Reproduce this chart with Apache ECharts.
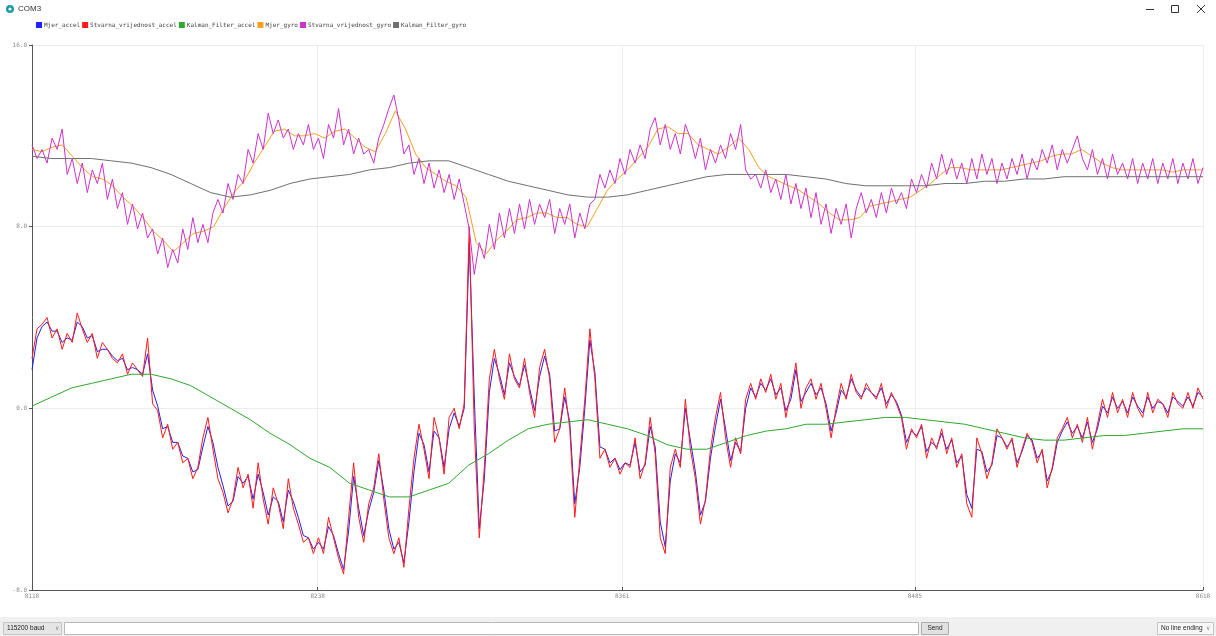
<!DOCTYPE html>
<html><head><meta charset="utf-8">
<script src="https://cdn.jsdelivr.net/npm/echarts@6/dist/echarts.min.js"></script>
<style>html,body{margin:0;padding:0;background:#fff;overflow:hidden}#chart{width:1216px;height:636px}</style>
</head><body><div id="chart"></div>
<script>
// ---- data (Arduino serial plotter, 500 samples wide) ----
const seriesNames = ['Mjer_accel','Stvarna_vrijednost_accel','Kalman_Filter_accel','Mjer_gyro','Stvarna_vrijednost_gyro','Kalman_Filter_gyro'];
const seriesColors = ['#1f1fff','#ff1a1a','#2ea82e','#f5a020','#cc33cc','#707070'];
const xTickSamples = [0, 122, 252, 377, 500];
const xTickLabels = ['8118','8238','8361','8485','8618'];
const yTickValues = [-8, 0, 8, 16];

const mjerAccel = [
 1.7, 3.1, 3.6, 3.8, 3.4, 3.4, 2.9, 3.1, 3.0, 3.8,
 3.6, 3.1, 3.2, 2.5, 2.6, 2.6, 2.3, 2.1, 2.2, 1.7,
 1.8, 1.7, 1.5, 2.4, 0.8, 0.1, -0.9, -0.8, -1.5, -1.5,
 -2.1, -2.2, -2.8, -2.7, -1.7, -0.8, -1.5, -2.6, -3.4, -4.3,
 -4.1, -3.0, -3.3, -3.0, -4.0, -2.9, -3.7, -4.7, -3.9, -4.1,
 -5.0, -3.6, -4.1, -4.8, -5.6, -5.7, -6.2, -5.9, -6.2, -5.2,
 -5.6, -6.4, -7.1, -5.4, -3.0, -4.4, -5.6, -4.5, -3.7, -2.3,
 -3.6, -5.3, -6.2, -5.9, -6.8, -5.0, -2.8, -1.1, -1.6, -2.8,
 -1.0, -1.3, -2.6, -0.9, -0.2, -0.8, 0.0, 7.3, 0.5, -5.3,
 -3.1, 0.7, 2.2, 1.5, 0.6, 2.0, 1.4, 1.0, 1.9, 0.9,
 -0.1, 1.4, 2.3, 1.5, -1.0, -0.9, 0.5, -0.6, -4.2, -2.6,
 0.0, 3.0, 1.6, -1.7, -1.8, -2.4, -2.2, -2.7, -2.4, -2.5,
 -1.5, -2.8, -2.5, -0.8, -1.7, -5.0, -6.1, -3.2, -2.0, -2.4,
 0.0, -1.4, -2.8, -4.7, -4.1, -2.2, -0.8, 0.4, -0.9, -2.3,
 -1.5, -1.9, 0.0, 0.9, 0.5, 1.1, 0.8, 1.3, 0.6, 0.9,
 -0.1, 0.4, 1.7, 0.3, 0.7, 1.1, 0.6, 0.9, 0.2, -1.0,
 -0.2, 0.8, 0.5, 1.3, 0.8, 0.5, 0.9, 0.7, 0.5, 0.9,
 0.2, 0.6, 0.3, -0.3, -1.5, -1.0, -1.2, -0.8, -1.9, -1.5,
 -1.7, -1.1, -1.8, -1.4, -2.4, -2.1, -3.8, -4.4, -1.8, -1.9,
 -2.8, -2.5, -1.2, -1.3, -1.7, -1.4, -2.4, -1.9, -1.2, -1.4,
 -2.2, -1.9, -3.2, -2.7, -1.5, -1.0, -0.6, -1.1, -0.8, -1.3,
 -0.6, -1.5, -0.9, 0.1, -0.2, 0.5, 0.0, 0.3, -0.2, 0.5,
 0.1, -0.2, 0.5, 0.0, 0.3, 0.2, -0.2, 0.5, 0.3, 0.1,
 0.5, 0.1, 0.7, 0.5
];
const stvarnaAccel = [
 2.2, 3.5, 3.7, 4.0, 3.1, 3.5, 2.6, 3.3, 2.9, 4.2,
 3.5, 2.9, 3.3, 2.2, 2.9, 2.6, 2.2, 2.0, 2.4, 1.5,
 2.0, 1.7, 1.4, 3.1, 0.2, -0.1, -1.3, -0.7, -1.8, -1.5,
 -2.4, -2.2, -3.1, -2.6, -1.3, -0.4, -1.8, -3.1, -3.7, -4.6,
 -4.0, -2.6, -3.5, -2.9, -4.4, -2.4, -4.0, -5.1, -3.5, -4.2,
 -5.3, -3.1, -4.4, -5.1, -5.9, -5.7, -6.4, -5.7, -6.4, -4.8,
 -5.7, -6.6, -7.3, -4.8, -2.4, -4.8, -5.9, -4.2, -3.5, -2.0,
 -4.0, -5.7, -6.4, -5.7, -7.0, -4.4, -2.2, -0.7, -1.8, -3.1,
 -0.4, -1.3, -2.9, -0.4, 0.0, -0.9, 0.2, 8.0, -0.9, -5.7,
 -2.6, 1.3, 2.6, 1.3, 0.4, 2.4, 1.3, 0.9, 2.2, 0.7,
 -0.4, 1.8, 2.6, 1.3, -1.5, -0.9, 0.9, -0.9, -4.8, -2.2,
 0.4, 3.5, 1.3, -2.2, -1.8, -2.6, -2.2, -2.9, -2.4, -2.6,
 -1.3, -3.1, -2.4, -0.4, -2.0, -5.7, -6.4, -2.6, -1.8, -2.6,
 0.4, -1.8, -3.1, -5.1, -4.0, -1.8, -0.4, 0.7, -1.3, -2.6,
 -1.3, -2.0, 0.4, 1.1, 0.4, 1.3, 0.7, 1.5, 0.4, 1.1,
 -0.4, 0.7, 2.0, 0.0, 0.9, 1.3, 0.4, 1.1, 0.0, -1.3,
 0.0, 1.1, 0.4, 1.5, 0.7, 0.4, 1.1, 0.7, 0.4, 1.1,
 0.0, 0.7, 0.2, -0.4, -1.8, -0.9, -1.3, -0.7, -2.2, -1.3,
 -1.8, -0.9, -2.0, -1.3, -2.6, -2.0, -4.2, -4.8, -1.3, -2.0,
 -3.1, -2.4, -0.9, -1.3, -1.8, -1.3, -2.6, -1.8, -1.1, -1.5,
 -2.4, -1.8, -3.5, -2.6, -1.3, -0.9, -0.4, -1.3, -0.7, -1.5,
 -0.4, -1.8, -0.7, 0.4, -0.4, 0.7, -0.2, 0.4, -0.4, 0.7,
 0.0, -0.4, 0.7, -0.2, 0.4, 0.2, -0.4, 0.7, 0.2, 0.0,
 0.7, 0.0, 0.9, 0.4
];
const kalmanAccel = [
 0.1, 0.5, 0.9, 1.1, 1.3, 1.5, 1.5, 1.3, 1.0, 0.5,
 0.0, -0.5, -1.1, -1.6, -2.2, -2.6, -3.3, -3.6, -3.9, -3.9,
 -3.6, -3.3, -2.5, -2.0, -1.4, -0.9, -0.7, -0.6, -0.5, -0.7,
 -0.9, -1.2, -1.6, -1.8, -1.8, -1.5, -1.2, -1.0, -0.9, -0.7,
 -0.7, -0.6, -0.5, -0.4, -0.4, -0.5, -0.6, -0.7, -0.9, -1.1,
 -1.3, -1.4, -1.4, -1.3, -1.2, -1.2, -1.1, -1.0, -0.9, -0.9
];
const mjerGyro = [
 11.4, 11.3, 11.5, 11.6, 11.1, 10.6, 10.2, 10.1, 9.8, 9.3,
 8.9, 8.4, 7.8, 7.4, 6.9, 7.3, 7.7, 7.8, 8.0, 8.8,
 9.5, 10.0, 10.8, 11.5, 12.2, 12.3, 12.0, 12.0, 12.1, 11.9,
 12.2, 12.3, 11.9, 11.5, 11.3, 12.1, 13.1, 12.3, 11.2, 10.6,
 10.3, 10.0, 9.8, 9.3, 7.3, 6.8, 7.4, 7.8, 8.3, 8.4,
 8.6, 8.6, 8.4, 8.4, 8.1, 8.0, 8.8, 9.6, 10.1, 10.5,
 11.0, 11.5, 12.3, 12.4, 12.1, 12.1, 11.6, 11.4, 11.2, 11.5,
 11.9, 11.4, 10.6, 10.2, 10.0, 9.8, 9.6, 9.3, 9.0, 8.6,
 8.3, 8.3, 8.4, 8.9, 9.0, 9.1, 9.2, 9.3, 9.6, 9.9,
 10.3, 10.6, 10.6, 10.5, 10.5, 10.5, 10.5, 10.6, 10.7, 10.8,
 10.9, 11.1, 11.2, 11.2, 11.4, 11.1, 10.8, 10.6, 10.5, 10.5,
 10.5, 10.5, 10.5, 10.4, 10.5, 10.5, 10.5
];
const stvarnaGyro = [
 11.6, 11.0, 11.4, 10.8, 11.9, 11.4, 12.3, 10.3, 11.0, 9.9,
 10.8, 9.5, 10.5, 9.9, 10.8, 9.2, 10.1, 8.8, 9.5, 8.1,
 9.0, 7.9, 8.6, 7.5, 7.9, 6.8, 7.5, 6.2, 7.0, 6.4,
 7.9, 7.0, 8.4, 7.3, 8.1, 7.3, 8.6, 9.2, 8.6, 9.9,
 9.2, 10.3, 9.9, 11.4, 10.8, 12.1, 11.4, 13.0, 12.1, 12.7,
 11.9, 12.3, 11.4, 12.1, 11.6, 12.5, 11.4, 11.9, 11.0, 12.5,
 11.9, 13.2, 11.6, 12.3, 11.2, 11.9, 11.2, 11.4, 10.8, 11.9,
 12.5, 13.2, 13.8, 12.7, 11.2, 11.6, 10.3, 11.0, 9.9, 10.8,
 9.7, 10.5, 9.5, 10.3, 9.2, 10.1, 9.0, 7.9, 5.9, 7.3,
 6.6, 8.1, 7.0, 8.6, 7.5, 8.8, 7.7, 9.0, 7.9, 9.2,
 8.1, 9.0, 8.4, 9.2, 7.7, 8.8, 8.1, 9.0, 7.5, 8.6,
 7.9, 9.0, 9.2, 10.3, 9.7, 10.5, 9.9, 11.0, 10.3, 11.4,
 10.8, 11.6, 11.0, 12.3, 12.8, 11.6, 12.5, 11.4, 12.1, 11.2,
 12.5, 11.9, 11.0, 11.9, 10.5, 11.4, 10.8, 11.6, 11.0, 12.1,
 11.4, 12.5, 10.5, 10.1, 10.3, 9.7, 10.5, 9.5, 10.1, 9.2,
 10.3, 9.0, 9.9, 8.8, 9.7, 8.4, 9.5, 8.1, 9.0, 7.7,
 8.8, 8.1, 9.0, 7.5, 8.8, 9.5, 8.6, 9.2, 8.4, 9.5,
 8.6, 9.7, 9.0, 9.5, 8.8, 10.1, 9.5, 10.3, 9.7, 10.8,
 10.1, 11.2, 10.3, 11.0, 10.1, 10.8, 9.9, 11.0, 10.1, 11.2,
 10.3, 11.0, 9.9, 10.8, 10.1, 11.0, 10.3, 11.2, 10.1, 11.0,
 10.5, 11.4, 10.8, 11.6, 10.5, 11.4, 10.8, 11.4, 12.0, 11.0,
 10.5, 11.4, 10.3, 11.0, 10.1, 11.2, 10.3, 10.8, 10.1, 11.0,
 9.9, 10.8, 10.1, 11.0, 9.9, 10.8, 10.1, 11.0, 9.9, 10.8,
 10.1, 11.0, 9.9, 10.6
];
const kalmanGyro = [
 11.1, 11.0, 11.0, 11.0, 10.9, 10.8, 10.6, 10.3, 9.9, 9.5,
 9.3, 9.4, 9.6, 9.9, 10.1, 10.2, 10.3, 10.5, 10.6, 10.8,
 10.9, 10.9, 10.6, 10.3, 10.0, 9.8, 9.6, 9.4, 9.3, 9.3,
 9.4, 9.6, 9.8, 10.0, 10.2, 10.3, 10.3, 10.3, 10.3, 10.2,
 10.1, 9.9, 9.8, 9.8, 9.8, 9.8, 9.9, 9.9, 10.0, 10.0,
 10.1, 10.1, 10.2, 10.2, 10.2, 10.2, 10.2, 10.2, 10.2, 10.2
];
const allSeries = [mjerAccel, stvarnaAccel, kalmanAccel, mjerGyro, stvarnaGyro, kalmanGyro];
const SAMPLES = 500;

// place each series' readings evenly across the 500-sample window
function spread(arr) {
  const n = arr.length;
  return arr.map((v, i) => [i * SAMPLES / (n - 1), v]);
}

const chart = echarts.init(document.getElementById('chart'), null, {renderer: 'canvas'});
const mono = 'DejaVu Sans Mono, Liberation Mono, monospace';
const uiFont = 'Liberation Sans, DejaVu Sans, sans-serif';

const option = {
  animation: false,
  backgroundColor: '#ffffff',
  legend: {
    left: 31, top: 17,
    itemWidth: 6, itemHeight: 6, itemGap: 2,
    icon: 'rect',
    textStyle: {fontFamily: mono, fontSize: 6, color: '#444', padding: [0, 0, 0, -3]},
    data: seriesNames
  },
  grid: {left: 32, right: 13, top: 45, bottom: 46, containLabel: false},
  xAxis: {
    type: 'value', min: 0, max: SAMPLES,
    axisLine: {show: true, onZero: false, lineStyle: {color: '#555', width: 1}},
    axisTick: {show: true, inside: true, length: 3, lineStyle: {color: '#555'}, customValues: xTickSamples},
    axisLabel: {
      customValues: xTickSamples, margin: 3,
      fontFamily: mono, fontSize: 6, color: '#888',
      formatter: v => xTickLabels[xTickSamples.indexOf(v)] || ''
    },
    splitLine: {show: true, lineStyle: {color: '#ececec', width: 1}}
  },
  yAxis: {
    type: 'value', min: yTickValues[0], max: yTickValues[yTickValues.length - 1], interval: 8,
    axisLine: {show: true, onZero: false, lineStyle: {color: '#555', width: 1}},
    axisTick: {show: true, length: 3, lineStyle: {color: '#555'}},
    axisLabel: {margin: 5, fontFamily: mono, fontSize: 6, color: '#888', formatter: v => v.toFixed(1)},
    splitLine: {show: true, lineStyle: {color: '#ececec', width: 1}}
  },
  series: seriesNames.map((name, i) => ({
    name, type: 'line', data: spread(allSeries[i]),
    showSymbol: false, symbol: 'none', smooth: false,
    lineStyle: {width: 1, color: seriesColors[i]},
    itemStyle: {color: seriesColors[i]},
    emphasis: {disabled: true}
  })),
  graphic: [
    // title bar
    {type: 'circle', shape: {cx: 10, cy: 9, r: 4}, style: {fill: '#1b9aa0'}},
    {type: 'circle', shape: {cx: 10, cy: 9, r: 1.6}, style: {fill: '#ffffff'}},
    {type: 'text', x: 18, y: 9, style: {text: 'COM3', fontFamily: uiFont, fontSize: 8, fill: '#333', verticalAlign: 'middle'}},
    {type: 'line', shape: {x1: 1146, y1: 9.5, x2: 1154, y2: 9.5}, style: {stroke: '#333', lineWidth: 1}},
    {type: 'rect', shape: {x: 1171.5, y: 5.5, width: 7, height: 7}, style: {fill: 'none', stroke: '#333', lineWidth: 1}},
    {type: 'line', shape: {x1: 1197, y1: 5, x2: 1205, y2: 13}, style: {stroke: '#333', lineWidth: 1}},
    {type: 'line', shape: {x1: 1205, y1: 5, x2: 1197, y2: 13}, style: {stroke: '#333', lineWidth: 1}},
    // bottom bar
    {type: 'rect', shape: {x: 0, y: 617, width: 1216, height: 19}, style: {fill: '#f0f0f0'}},
    {type: 'rect', shape: {x: 3.5, y: 622.5, width: 58, height: 12}, style: {fill: '#e5e5e5', stroke: '#c4c4c4'}},
    {type: 'text', x: 7, y: 628.5, style: {text: '115200 baud', fontFamily: uiFont, fontSize: 6.5, fill: '#222', verticalAlign: 'middle'}},
    {type: 'text', x: 55, y: 628.5, style: {text: '∨', fontFamily: uiFont, fontSize: 6, fill: '#888', verticalAlign: 'middle'}},
    {type: 'rect', shape: {x: 64.5, y: 622.5, width: 854, height: 12}, style: {fill: '#ffffff', stroke: '#b8b8b8'}},
    {type: 'rect', shape: {x: 921.5, y: 622.5, width: 27, height: 12}, style: {fill: '#e1e1e1', stroke: '#adadad'}},
    {type: 'text', x: 935, y: 628.5, style: {text: 'Send', fontFamily: uiFont, fontSize: 6.5, fill: '#222', align: 'center', verticalAlign: 'middle'}},
    {type: 'rect', shape: {x: 1157.5, y: 622.5, width: 56, height: 12}, style: {fill: '#f7f7f7', stroke: '#c4c4c4'}},
    {type: 'text', x: 1161, y: 628.5, style: {text: 'No line ending', fontFamily: uiFont, fontSize: 6.5, fill: '#222', verticalAlign: 'middle'}},
    {type: 'text', x: 1206, y: 628.5, style: {text: '∨', fontFamily: uiFont, fontSize: 6, fill: '#888', verticalAlign: 'middle'}}
  ]
};
chart.setOption(option);
</script>
</body></html>
